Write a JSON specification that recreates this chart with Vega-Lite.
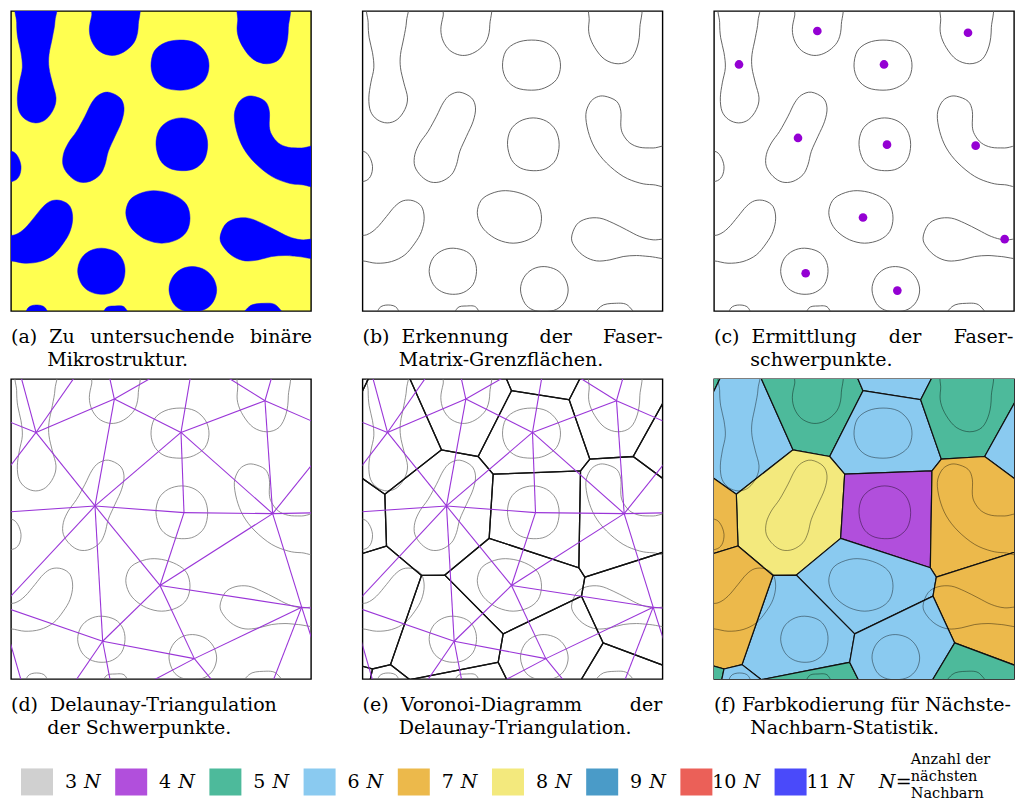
{
"$schema": "https://vega.github.io/schema/vega-lite/v6.json",
"padding": {"left": 10, "top": 10, "right": 0, "bottom": 0},
"spacing": 7,
"config": {
  "view": {"stroke": "#000", "strokeWidth": 1.4},
  "title": {"font": "DejaVu Serif", "fontSize": 19, "fontWeight": "normal", "lineHeight": 23, "offset": 17, "orient": "bottom", "anchor": "start", "color": "#000"},
  "text": {"font": "DejaVu Serif", "color": "#000"}
},
"datasets": {
"blobs": [
{"b":"A","i":0,"x":138,"y":-20},{"b":"A","i":1,"x":140,"y":40},{"b":"A","i":2,"x":132,"y":90},{"b":"A","i":3,"x":122,"y":140},{"b":"A","i":4,"x":122,"y":180},{"b":"A","i":5,"x":132,"y":225},{"b":"A","i":6,"x":143,"y":270},{"b":"A","i":7,"x":135,"y":305},{"b":"A","i":8,"x":112,"y":335},{"b":"A","i":9,"x":82,"y":345},{"b":"A","i":10,"x":52,"y":335},{"b":"A","i":11,"x":32,"y":310},{"b":"A","i":12,"x":27,"y":270},{"b":"A","i":13,"x":33,"y":225},{"b":"A","i":14,"x":42,"y":180},{"b":"A","i":15,"x":38,"y":135},{"b":"A","i":16,"x":28,"y":90},{"b":"A","i":17,"x":25,"y":45},{"b":"A","i":18,"x":28,"y":-20},
{"b":"B","i":0,"x":385,"y":-20},{"b":"B","i":1,"x":390,"y":50},{"b":"B","i":2,"x":382,"y":95},{"b":"B","i":3,"x":360,"y":123},{"b":"B","i":4,"x":330,"y":140},{"b":"B","i":5,"x":300,"y":142},{"b":"B","i":6,"x":270,"y":128},{"b":"B","i":7,"x":250,"y":100},{"b":"B","i":8,"x":243,"y":65},{"b":"B","i":9,"x":250,"y":25},{"b":"B","i":10,"x":262,"y":-20},
{"b":"C","i":0,"x":515,"y":97},{"b":"C","i":1,"x":560,"y":105},{"b":"C","i":2,"x":592,"y":135},{"b":"C","i":3,"x":602,"y":175},{"b":"C","i":4,"x":590,"y":215},{"b":"C","i":5,"x":555,"y":240},{"b":"C","i":6,"x":515,"y":247},{"b":"C","i":7,"x":470,"y":240},{"b":"C","i":8,"x":440,"y":215},{"b":"C","i":9,"x":428,"y":175},{"b":"C","i":10,"x":438,"y":130},{"b":"C","i":11,"x":470,"y":105},
{"b":"D","i":0,"x":700,"y":-20},{"b":"D","i":1,"x":688,"y":40},{"b":"D","i":2,"x":688,"y":80},{"b":"D","i":3,"x":705,"y":120},{"b":"D","i":4,"x":735,"y":155},{"b":"D","i":5,"x":775,"y":168},{"b":"D","i":6,"x":812,"y":155},{"b":"D","i":7,"x":833,"y":115},{"b":"D","i":8,"x":840,"y":60},{"b":"D","i":9,"x":835,"y":-20},
{"b":"E","i":0,"x":300,"y":253},{"b":"E","i":1,"x":335,"y":270},{"b":"E","i":2,"x":347,"y":300},{"b":"E","i":3,"x":340,"y":340},{"b":"E","i":4,"x":320,"y":385},{"b":"E","i":5,"x":300,"y":430},{"b":"E","i":6,"x":290,"y":470},{"b":"E","i":7,"x":275,"y":500},{"b":"E","i":8,"x":245,"y":520},{"b":"E","i":9,"x":213,"y":522},{"b":"E","i":10,"x":185,"y":505},{"b":"E","i":11,"x":165,"y":475},{"b":"E","i":12,"x":165,"y":440},{"b":"E","i":13,"x":180,"y":405},{"b":"E","i":14,"x":205,"y":370},{"b":"E","i":15,"x":230,"y":325},{"b":"E","i":16,"x":250,"y":285},{"b":"E","i":17,"x":270,"y":262},
{"b":"F","i":0,"x":520,"y":330},{"b":"F","i":1,"x":560,"y":340},{"b":"F","i":2,"x":588,"y":368},{"b":"F","i":3,"x":598,"y":410},{"b":"F","i":4,"x":588,"y":455},{"b":"F","i":5,"x":558,"y":482},{"b":"F","i":6,"x":520,"y":488},{"b":"F","i":7,"x":482,"y":480},{"b":"F","i":8,"x":455,"y":455},{"b":"F","i":9,"x":443,"y":410},{"b":"F","i":10,"x":452,"y":367},{"b":"F","i":11,"x":480,"y":340},
{"b":"G","i":0,"x":735,"y":265},{"b":"G","i":1,"x":770,"y":280},{"b":"G","i":2,"x":783,"y":310},{"b":"G","i":3,"x":783,"y":355},{"b":"G","i":4,"x":790,"y":380},{"b":"G","i":5,"x":810,"y":405},{"b":"G","i":6,"x":840,"y":418},{"b":"G","i":7,"x":880,"y":420},{"b":"G","i":8,"x":940,"y":420},{"b":"G","i":9,"x":940,"y":530},{"b":"G","i":10,"x":880,"y":530},{"b":"G","i":11,"x":840,"y":525},{"b":"G","i":12,"x":790,"y":505},{"b":"G","i":13,"x":740,"y":465},{"b":"G","i":14,"x":705,"y":420},{"b":"G","i":15,"x":685,"y":370},{"b":"G","i":16,"x":678,"y":320},{"b":"G","i":17,"x":690,"y":285},{"b":"G","i":18,"x":710,"y":268},
{"b":"H","i":0,"x":-30,"y":430},{"b":"H","i":1,"x":10,"y":430},{"b":"H","i":2,"x":28,"y":445},{"b":"H","i":3,"x":38,"y":475},{"b":"H","i":4,"x":32,"y":505},{"b":"H","i":5,"x":12,"y":520},{"b":"H","i":6,"x":-30,"y":520},
{"b":"I","i":0,"x":-30,"y":690},{"b":"I","i":1,"x":20,"y":680},{"b":"I","i":2,"x":50,"y":660},{"b":"I","i":3,"x":80,"y":625},{"b":"I","i":4,"x":105,"y":595},{"b":"I","i":5,"x":130,"y":578},{"b":"I","i":6,"x":160,"y":578},{"b":"I","i":7,"x":185,"y":595},{"b":"I","i":8,"x":193,"y":630},{"b":"I","i":9,"x":185,"y":670},{"b":"I","i":10,"x":165,"y":705},{"b":"I","i":11,"x":135,"y":740},{"b":"I","i":12,"x":95,"y":760},{"b":"I","i":13,"x":50,"y":765},{"b":"I","i":14,"x":8,"y":758},{"b":"I","i":15,"x":-30,"y":760},
{"b":"J","i":0,"x":415,"y":550},{"b":"J","i":1,"x":460,"y":550},{"b":"J","i":2,"x":505,"y":565},{"b":"J","i":3,"x":535,"y":590},{"b":"J","i":4,"x":545,"y":630},{"b":"J","i":5,"x":535,"y":670},{"b":"J","i":6,"x":505,"y":695},{"b":"J","i":7,"x":460,"y":705},{"b":"J","i":8,"x":415,"y":695},{"b":"J","i":9,"x":378,"y":670},{"b":"J","i":10,"x":358,"y":640},{"b":"J","i":11,"x":353,"y":605},{"b":"J","i":12,"x":370,"y":570},
{"b":"K","i":0,"x":650,"y":650},{"b":"K","i":1,"x":680,"y":632},{"b":"K","i":2,"x":720,"y":630},{"b":"K","i":3,"x":760,"y":645},{"b":"K","i":4,"x":800,"y":665},{"b":"K","i":5,"x":840,"y":685},{"b":"K","i":6,"x":880,"y":695},{"b":"K","i":7,"x":940,"y":695},{"b":"K","i":8,"x":940,"y":750},{"b":"K","i":9,"x":870,"y":745},{"b":"K","i":10,"x":830,"y":742},{"b":"K","i":11,"x":790,"y":745},{"b":"K","i":12,"x":750,"y":755},{"b":"K","i":13,"x":710,"y":758},{"b":"K","i":14,"x":675,"y":745},{"b":"K","i":15,"x":648,"y":720},{"b":"K","i":16,"x":635,"y":690},
{"b":"L","i":0,"x":280,"y":720},{"b":"L","i":1,"x":320,"y":730},{"b":"L","i":2,"x":343,"y":755},{"b":"L","i":3,"x":350,"y":790},{"b":"L","i":4,"x":340,"y":828},{"b":"L","i":5,"x":312,"y":852},{"b":"L","i":6,"x":278,"y":858},{"b":"L","i":7,"x":245,"y":850},{"b":"L","i":8,"x":220,"y":828},{"b":"L","i":9,"x":208,"y":790},{"b":"L","i":10,"x":218,"y":752},{"b":"L","i":11,"x":245,"y":728},
{"b":"M","i":0,"x":553,"y":775},{"b":"M","i":1,"x":590,"y":785},{"b":"M","i":2,"x":615,"y":810},{"b":"M","i":3,"x":625,"y":845},{"b":"M","i":4,"x":615,"y":880},{"b":"M","i":5,"x":590,"y":903},{"b":"M","i":6,"x":555,"y":910},{"b":"M","i":7,"x":520,"y":905},{"b":"M","i":8,"x":495,"y":885},{"b":"M","i":9,"x":482,"y":845},{"b":"M","i":10,"x":492,"y":808},{"b":"M","i":11,"x":518,"y":783},
{"b":"N1","i":0,"x":52,"y":940},{"b":"N1","i":1,"x":58,"y":900},{"b":"N1","i":2,"x":85,"y":890},{"b":"N1","i":3,"x":112,"y":900},{"b":"N1","i":4,"x":118,"y":940},
{"b":"N2","i":0,"x":283,"y":940},{"b":"N2","i":1,"x":292,"y":900},{"b":"N2","i":2,"x":320,"y":893},{"b":"N2","i":3,"x":350,"y":898},{"b":"N2","i":4,"x":360,"y":940},
{"b":"N3","i":0,"x":703,"y":940},{"b":"N3","i":1,"x":722,"y":895},{"b":"N3","i":2,"x":765,"y":885},{"b":"N3","i":3,"x":805,"y":892},{"b":"N3","i":4,"x":825,"y":940}
],
"cents": [
{"x":83,"y":170},{"x":318,"y":70},{"x":518,"y":170},{"x":770,"y":75},{"x":260,"y":390},{"x":527,"y":410},{"x":793,"y":413},{"x":455,"y":628},{"x":880,"y":693},{"x":283,"y":795},{"x":558,"y":847}
],
"edges": [
{"x":83,"y":170,"x2":318,"y2":70},{"x":83,"y":170,"x2":260,"y2":390},{"x":318,"y":70,"x2":518,"y2":170},{"x":318,"y":70,"x2":260,"y2":390},{"x":518,"y":170,"x2":260,"y2":390},{"x":518,"y":170,"x2":527,"y2":410},{"x":518,"y":170,"x2":770,"y2":75},{"x":518,"y":170,"x2":793,"y2":413},{"x":770,"y":75,"x2":793,"y2":413},{"x":260,"y":390,"x2":527,"y2":410},{"x":260,"y":390,"x2":455,"y2":628},{"x":260,"y":390,"x2":283,"y2":795},{"x":527,"y":410,"x2":793,"y2":413},{"x":527,"y":410,"x2":455,"y2":628},{"x":793,"y":413,"x2":455,"y2":628},{"x":793,"y":413,"x2":880,"y2":693},{"x":455,"y":628,"x2":880,"y2":693},{"x":455,"y":628,"x2":283,"y2":795},{"x":455,"y":628,"x2":558,"y2":847},{"x":880,"y":693,"x2":558,"y2":847},{"x":283,"y":795,"x2":558,"y2":847},
{"x":83,"y":170,"x2":29,"y2":-30},{"x":83,"y":170,"x2":223,"y2":-30},{"x":83,"y":170,"x2":-30,"y2":125},{"x":83,"y":170,"x2":-30,"y2":317},{"x":318,"y":70,"x2":296,"y2":-30},{"x":318,"y":70,"x2":493,"y2":-30},{"x":518,"y":170,"x2":552,"y2":-30},{"x":770,"y":75,"x2":617,"y2":-20},{"x":770,"y":75,"x2":800,"y2":-30},{"x":770,"y":75,"x2":954,"y2":155},{"x":793,"y":413,"x2":940,"y2":230},{"x":793,"y":413,"x2":950,"y2":410},{"x":260,"y":390,"x2":-30,"y2":410},{"x":260,"y":390,"x2":-30,"y2":700},{"x":880,"y":693,"x2":950,"y2":700},{"x":880,"y":693,"x2":920,"y2":818},{"x":880,"y":693,"x2":780,"y2":950},{"x":283,"y":795,"x2":-30,"y2":687},{"x":283,"y":795,"x2":180,"y2":945},{"x":283,"y":795,"x2":312,"y2":945},{"x":558,"y":847,"x2":400,"y2":930},{"x":558,"y":847,"x2":630,"y2":935},{"x":-20,"y":710,"x2":45,"y2":935}
],
"cells": [
{"c":"V0","n":"5N","i":0,"x":-20,"y":-20},{"c":"V0","n":"5N","i":1,"x":40,"y":-20},{"c":"V0","n":"5N","i":2,"x":-20,"y":103},
{"c":"V1","n":"6N","i":0,"x":40,"y":-20},{"c":"V1","n":"6N","i":1,"x":137,"y":-20},{"c":"V1","n":"6N","i":2,"x":245,"y":222},{"c":"V1","n":"6N","i":3,"x":75,"y":355},{"c":"V1","n":"6N","i":4,"x":-20,"y":288},{"c":"V1","n":"6N","i":5,"x":-20,"y":103},
{"c":"V2","n":"5N","i":0,"x":137,"y":-20},{"c":"V2","n":"5N","i":1,"x":427,"y":-20},{"c":"V2","n":"5N","i":2,"x":455,"y":45},{"c":"V2","n":"5N","i":3,"x":355,"y":242},{"c":"V2","n":"5N","i":4,"x":245,"y":222},
{"c":"V3","n":"6N","i":0,"x":427,"y":-20},{"c":"V3","n":"6N","i":1,"x":675,"y":-20},{"c":"V3","n":"6N","i":2,"x":628,"y":72},{"c":"V3","n":"6N","i":3,"x":455,"y":45},
{"c":"V4","n":"6N","i":0,"x":455,"y":45},{"c":"V4","n":"6N","i":1,"x":628,"y":72},{"c":"V4","n":"6N","i":2,"x":690,"y":250},{"c":"V4","n":"6N","i":3,"x":662,"y":285},{"c":"V4","n":"6N","i":4,"x":400,"y":295},{"c":"V4","n":"6N","i":5,"x":355,"y":242},
{"c":"V5","n":"5N","i":0,"x":675,"y":-20},{"c":"V5","n":"5N","i":1,"x":940,"y":-20},{"c":"V5","n":"5N","i":2,"x":940,"y":27},{"c":"V5","n":"5N","i":3,"x":820,"y":242},{"c":"V5","n":"5N","i":4,"x":690,"y":250},{"c":"V5","n":"5N","i":5,"x":628,"y":72},
{"c":"V6","n":"6N","i":0,"x":940,"y":27},{"c":"V6","n":"6N","i":1,"x":940,"y":331},{"c":"V6","n":"6N","i":2,"x":820,"y":242},
{"c":"V7","n":"8N","i":0,"x":75,"y":355},{"c":"V7","n":"8N","i":1,"x":245,"y":222},{"c":"V7","n":"8N","i":2,"x":355,"y":242},{"c":"V7","n":"8N","i":3,"x":400,"y":295},{"c":"V7","n":"8N","i":4,"x":388,"y":487},{"c":"V7","n":"8N","i":5,"x":255,"y":597},{"c":"V7","n":"8N","i":6,"x":185,"y":598},{"c":"V7","n":"8N","i":7,"x":80,"y":510},
{"c":"V8","n":"4N","i":0,"x":400,"y":295},{"c":"V8","n":"4N","i":1,"x":662,"y":285},{"c":"V8","n":"4N","i":2,"x":657,"y":575},{"c":"V8","n":"4N","i":3,"x":388,"y":487},
{"c":"V9","n":"7N","i":0,"x":662,"y":285},{"c":"V9","n":"7N","i":1,"x":690,"y":250},{"c":"V9","n":"7N","i":2,"x":820,"y":242},{"c":"V9","n":"7N","i":3,"x":940,"y":331},{"c":"V9","n":"7N","i":4,"x":940,"y":519},{"c":"V9","n":"7N","i":5,"x":675,"y":603},{"c":"V9","n":"7N","i":6,"x":657,"y":575},
{"c":"V10","n":"6N","i":0,"x":388,"y":487},{"c":"V10","n":"6N","i":1,"x":657,"y":575},{"c":"V10","n":"6N","i":2,"x":675,"y":603},{"c":"V10","n":"6N","i":3,"x":665,"y":660},{"c":"V10","n":"6N","i":4,"x":430,"y":773},{"c":"V10","n":"6N","i":5,"x":255,"y":597},
{"c":"V11","n":"7N","i":0,"x":675,"y":603},{"c":"V11","n":"7N","i":1,"x":940,"y":519},{"c":"V11","n":"7N","i":2,"x":940,"y":878},{"c":"V11","n":"7N","i":3,"x":730,"y":800},{"c":"V11","n":"7N","i":4,"x":665,"y":660},
{"c":"V12","n":"6N","i":0,"x":185,"y":598},{"c":"V12","n":"6N","i":1,"x":255,"y":597},{"c":"V12","n":"6N","i":2,"x":430,"y":773},{"c":"V12","n":"6N","i":3,"x":415,"y":858},{"c":"V12","n":"6N","i":4,"x":150,"y":910},{"c":"V12","n":"6N","i":5,"x":92,"y":865},
{"c":"V13","n":"5N","i":0,"x":150,"y":910},{"c":"V13","n":"5N","i":1,"x":415,"y":858},{"c":"V13","n":"5N","i":2,"x":456,"y":940},{"c":"V13","n":"5N","i":3,"x":140,"y":940},
{"c":"V14","n":"6N","i":0,"x":430,"y":773},{"c":"V14","n":"6N","i":1,"x":665,"y":660},{"c":"V14","n":"6N","i":2,"x":730,"y":800},{"c":"V14","n":"6N","i":3,"x":646,"y":940},{"c":"V14","n":"6N","i":4,"x":456,"y":940},{"c":"V14","n":"6N","i":5,"x":415,"y":858},
{"c":"V15","n":"5N","i":0,"x":730,"y":800},{"c":"V15","n":"5N","i":1,"x":940,"y":878},{"c":"V15","n":"5N","i":2,"x":940,"y":940},{"c":"V15","n":"5N","i":3,"x":646,"y":940},
{"c":"V16","n":"7N","i":0,"x":-20,"y":288},{"c":"V16","n":"7N","i":1,"x":75,"y":355},{"c":"V16","n":"7N","i":2,"x":80,"y":510},{"c":"V16","n":"7N","i":3,"x":-20,"y":541},
{"c":"V17","n":"7N","i":0,"x":-20,"y":541},{"c":"V17","n":"7N","i":1,"x":80,"y":510},{"c":"V17","n":"7N","i":2,"x":185,"y":598},{"c":"V17","n":"7N","i":3,"x":92,"y":865},{"c":"V17","n":"7N","i":4,"x":38,"y":878},{"c":"V17","n":"7N","i":5,"x":-20,"y":862},
{"c":"V18","n":"5N","i":0,"x":-20,"y":862},{"c":"V18","n":"5N","i":1,"x":38,"y":878},{"c":"V18","n":"5N","i":2,"x":25,"y":940},{"c":"V18","n":"5N","i":3,"x":-20,"y":940},
{"c":"V19","n":"6N","i":0,"x":38,"y":878},{"c":"V19","n":"6N","i":1,"x":92,"y":865},{"c":"V19","n":"6N","i":2,"x":150,"y":910},{"c":"V19","n":"6N","i":3,"x":140,"y":940},{"c":"V19","n":"6N","i":4,"x":25,"y":940}
],
"legend": [
{"i":0,"n":"3N","num":"3"},{"i":1,"n":"4N","num":"4"},{"i":2,"n":"5N","num":"5"},{"i":3,"n":"6N","num":"6"},{"i":4,"n":"7N","num":"7"},{"i":5,"n":"8N","num":"8"},{"i":6,"n":"9N","num":"9"},{"i":7,"n":"10N","num":"10"},{"i":8,"n":"11N","num":"11"}
],
"note": [
{"t":"Anzahl der","r":-1,"i":9},{"t":"nächsten","r":0,"i":9},{"t":"Nachbarn","r":1,"i":9}
],
"sym": [
{"s":"N","i":9}
],
"eq": [
{"s":"=","i":9}
]
},
"vconcat": [
{"hconcat": [
 {"width":300,"height":300,"view":{"fill":"#ffff50"},
  "title":{"text":["(a)\u00a0\u00a0Zu \u2002untersuchende \u2002binäre","\u200b\u00a0\u00a0\u00a0\u00a0\u00a0\u00a0Mikrostruktur."],"orient":"bottom","anchor":"start"},
  "data":{"name":"blobs"},
  "mark":{"type":"line","interpolate":"cardinal-closed","fill":"#0000ff","stroke":"#0000ff","strokeWidth":0.5,"clip":true},
  "encoding":{"x":{"field":"x","type":"quantitative","scale":{"domain":[8,908],"nice":false,"zero":false},"axis":null},"y":{"field":"y","type":"quantitative","scale":{"domain":[10,908],"nice":false,"zero":false,"reverse":true},"axis":null},"detail":{"field":"b"},"order":{"field":"i","type":"quantitative"}}},
 {"width":300,"height":300,
  "title":{"text":["(b)\u00a0\u00a0Erkennung\u00a0\u2002\u2002\u00a0der\u00a0\u2002\u2002\u00a0Faser-","\u200b\u00a0\u00a0\u00a0\u00a0\u00a0\u00a0Matrix-Grenzflächen."],"orient":"bottom","anchor":"start"},
  "data":{"name":"blobs"},
  "mark":{"type":"line","interpolate":"cardinal-closed","stroke":"#555555","strokeWidth":0.9,"clip":true},
  "encoding":{"x":{"field":"x","type":"quantitative","scale":{"domain":[8,908],"nice":false,"zero":false},"axis":null},"y":{"field":"y","type":"quantitative","scale":{"domain":[10,908],"nice":false,"zero":false,"reverse":true},"axis":null},"detail":{"field":"b"},"order":{"field":"i","type":"quantitative"}}},
 {"width":300,"height":300,
  "title":{"text":["(c)\u00a0\u00a0Ermittlung\u2009\u2003\u2002der\u2009\u2003\u2002Faser-","\u200b\u00a0\u00a0\u00a0\u00a0\u00a0\u00a0schwerpunkte."],"orient":"bottom","anchor":"start"},
  "encoding":{"x":{"field":"x","type":"quantitative","scale":{"domain":[8,908],"nice":false,"zero":false},"axis":null},"y":{"field":"y","type":"quantitative","scale":{"domain":[10,908],"nice":false,"zero":false,"reverse":true},"axis":null}},
  "layer":[
   {"data":{"name":"blobs"},"mark":{"type":"line","interpolate":"cardinal-closed","stroke":"#555555","strokeWidth":0.9,"clip":true},"encoding":{"detail":{"field":"b"},"order":{"field":"i","type":"quantitative"}}},
   {"data":{"name":"cents"},"mark":{"type":"point","filled":true,"shape":"circle","size":75,"color":"#9400d3","opacity":1,"clip":true}}
  ]}
], "spacing": 51.5, "bounds": "flush"},
{"hconcat": [
 {"width":300,"height":300,
  "title":{"text":["(d)\u00a0\u00a0Delaunay-Triangulation","\u200b\u00a0\u00a0\u00a0\u00a0\u00a0\u00a0der Schwerpunkte."],"orient":"bottom","anchor":"start"},
  "encoding":{"x":{"field":"x","type":"quantitative","scale":{"domain":[8,908],"nice":false,"zero":false},"axis":null},"y":{"field":"y","type":"quantitative","scale":{"domain":[10,908],"nice":false,"zero":false,"reverse":true},"axis":null}},
  "layer":[
   {"data":{"name":"blobs"},"mark":{"type":"line","interpolate":"cardinal-closed","stroke":"#777777","strokeWidth":0.8,"clip":true},"encoding":{"detail":{"field":"b"},"order":{"field":"i","type":"quantitative"}}},
   {"data":{"name":"edges"},"mark":{"type":"rule","stroke":"#9a35d8","strokeWidth":1.1,"clip":true},"encoding":{"x2":{"field":"x2"},"y2":{"field":"y2"}}}
  ]},
 {"width":300,"height":300,
  "title":{"text":["(e)\u00a0\u00a0Voronoi-Diagramm\u00a0\u2003\u2003\u2009der","\u200b\u00a0\u00a0\u00a0\u00a0\u00a0\u00a0Delaunay-Triangulation."],"orient":"bottom","anchor":"start"},
  "encoding":{"x":{"field":"x","type":"quantitative","scale":{"domain":[8,908],"nice":false,"zero":false},"axis":null},"y":{"field":"y","type":"quantitative","scale":{"domain":[10,908],"nice":false,"zero":false,"reverse":true},"axis":null}},
  "layer":[
   {"data":{"name":"blobs"},"mark":{"type":"line","interpolate":"cardinal-closed","stroke":"#777777","strokeWidth":0.8,"clip":true},"encoding":{"detail":{"field":"b"},"order":{"field":"i","type":"quantitative"}}},
   {"data":{"name":"cells"},"mark":{"type":"line","interpolate":"linear-closed","stroke":"#111111","strokeWidth":1.3,"clip":true},"encoding":{"detail":{"field":"c"},"order":{"field":"i","type":"quantitative"}}},
   {"data":{"name":"edges"},"mark":{"type":"rule","stroke":"#9a35d8","strokeWidth":1.1,"clip":true},"encoding":{"x2":{"field":"x2"},"y2":{"field":"y2"}}}
  ]},
 {"width":300,"height":300,
  "title":{"text":["(f)\u00a0Farbkodierung für Nächste-","\u200b\u00a0\u00a0\u00a0\u00a0\u00a0\u00a0Nachbarn-Statistik."],"orient":"bottom","anchor":"start"},
  "encoding":{"x":{"field":"x","type":"quantitative","scale":{"domain":[8,908],"nice":false,"zero":false},"axis":null},"y":{"field":"y","type":"quantitative","scale":{"domain":[10,908],"nice":false,"zero":false,"reverse":true},"axis":null}},
  "layer":[
   {"data":{"name":"cells"},"mark":{"type":"line","interpolate":"linear-closed","stroke":"#111111","strokeWidth":1.2,"clip":true},"encoding":{"detail":{"field":"c"},"order":{"field":"i","type":"quantitative"},"fill":{"field":"n","type":"nominal","scale":{"domain":["3N","4N","5N","6N","7N","8N","9N","10N","11N"],"range":["#d0d0d0","#b14fdc","#4dba9b","#8acaf0","#ecb94b","#f3e97d","#4a9bc8","#eb6058","#4a4afa"]},"legend":null}}},
   {"data":{"name":"blobs"},"mark":{"type":"line","interpolate":"cardinal-closed","stroke":"#000000","strokeOpacity":0.45,"strokeWidth":0.9,"clip":true},"encoding":{"detail":{"field":"b"},"order":{"field":"i","type":"quantitative"}}}
  ]}
], "spacing": 51.5, "bounds": "flush"},
{"width":1000,"height":54,"view":{"stroke":null},
 "layer":[
  {"data":{"name":"legend"},"mark":{"type":"point","shape":"M-1.185,-1H1.185V1H-1.185Z","filled":true,"size":729,"opacity":1,"strokeWidth":0},
   "encoding":{"x":{"field":"i","type":"quantitative","scale":{"domain":[-0.276,10.34],"nice":false,"zero":false},"axis":null},"y":{"datum":0.29,"type":"quantitative","scale":{"domain":[-1.824,1.353],"nice":false,"zero":false,"reverse":true},"axis":null},"fill":{"field":"n","type":"nominal","scale":{"domain":["3N","4N","5N","6N","7N","8N","9N","10N","11N"],"range":["#d0d0d0","#b14fdc","#4dba9b","#8acaf0","#ecb94b","#f3e97d","#4a9bc8","#eb6058","#4a4afa"]},"legend":null}}},
  {"data":{"name":"legend"},"mark":{"type":"text","align":"right","baseline":"middle","dx":40,"fontSize":19},
   "encoding":{"x":{"field":"i","type":"quantitative"},"y":{"datum":0.29,"type":"quantitative"},"text":{"field":"num"}}},
  {"data":{"name":"legend"},"mark":{"type":"text","align":"left","baseline":"middle","dx":47,"fontSize":19,"fontStyle":"italic"},
   "encoding":{"x":{"field":"i","type":"quantitative"},"y":{"datum":0.29,"type":"quantitative"},"text":{"value":"N"}}},
  {"data":{"name":"note"},"mark":{"type":"text","align":"left","baseline":"middle","dx":26,"fontSize":14.5},
   "encoding":{"x":{"field":"i","type":"quantitative"},"y":{"field":"r","type":"quantitative"},"text":{"field":"t"}}},
  {"data":{"name":"sym"},"mark":{"type":"text","align":"left","baseline":"middle","dx":-6,"fontSize":19,"fontStyle":"italic"},
   "encoding":{"x":{"field":"i","type":"quantitative"},"y":{"datum":0.29,"type":"quantitative"},"text":{"field":"s"}}},
  {"data":{"name":"eq"},"mark":{"type":"text","align":"left","baseline":"middle","dx":11,"fontSize":19},
   "encoding":{"x":{"field":"i","type":"quantitative"},"y":{"datum":0.29,"type":"quantitative"},"text":{"field":"s"}}}
 ]}
]
}
